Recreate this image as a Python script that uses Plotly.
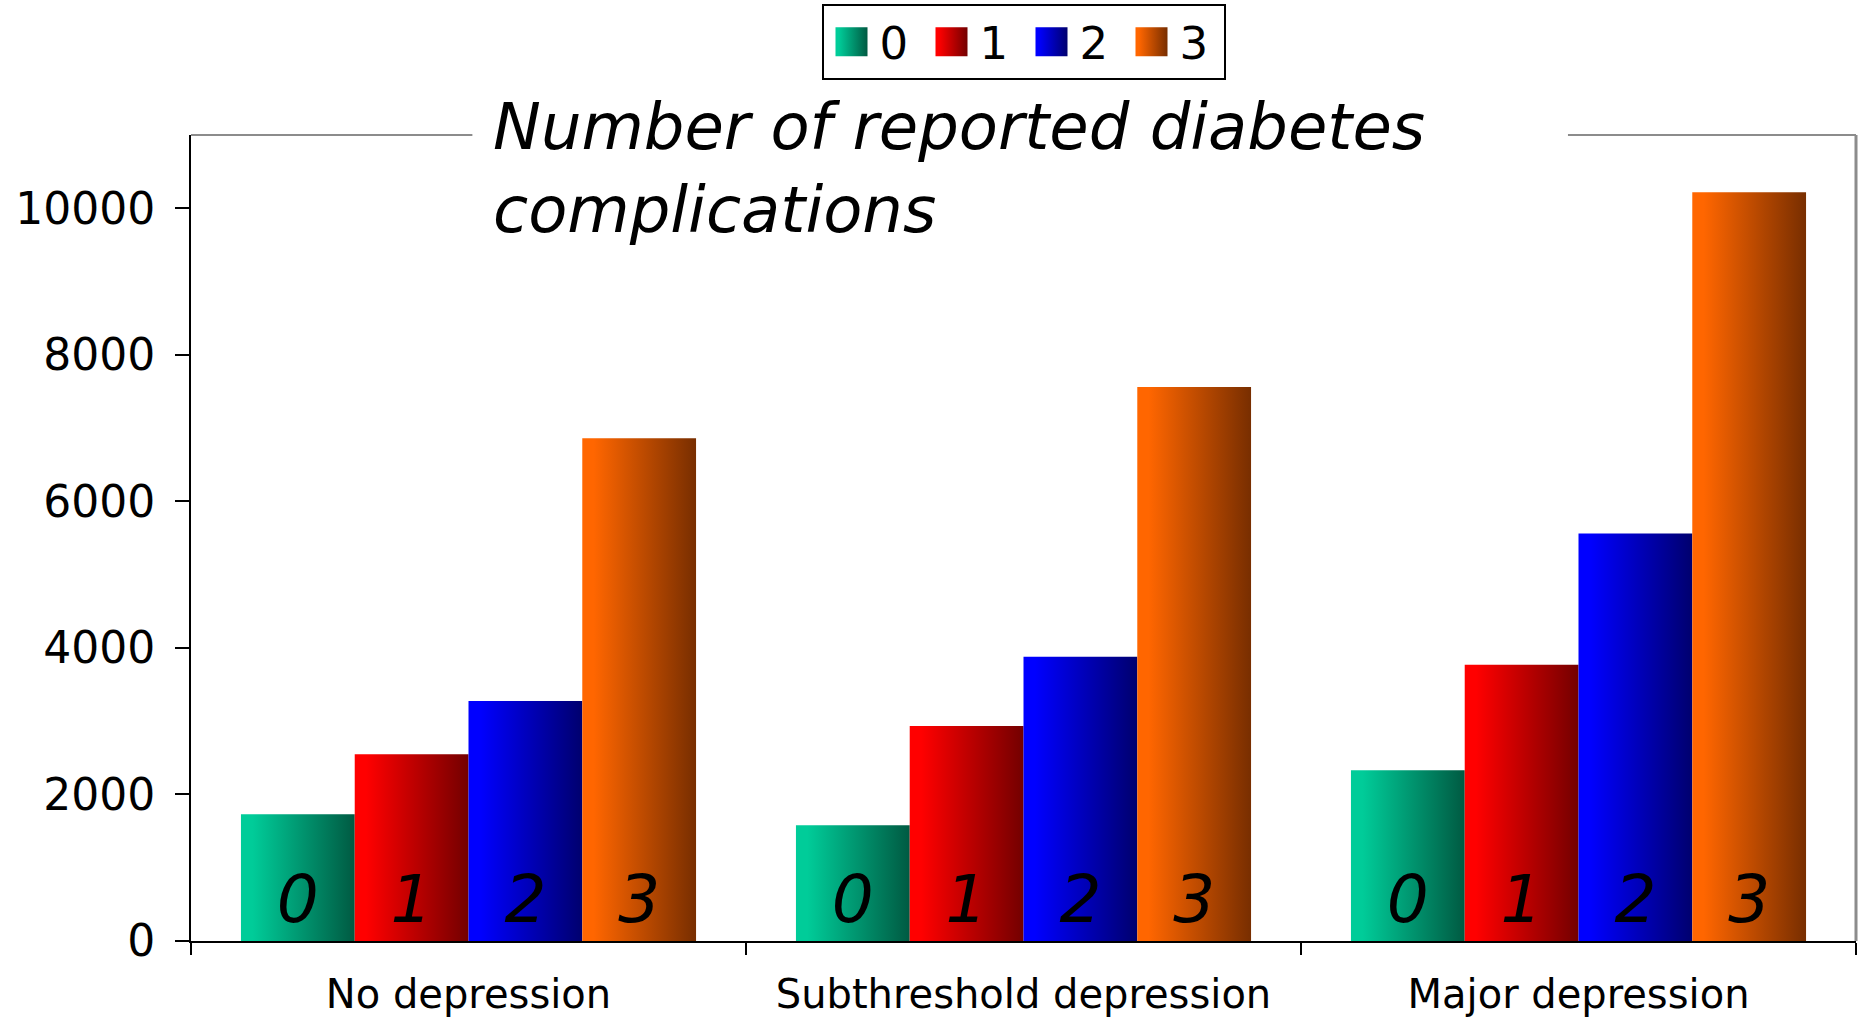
import json
import plotly.graph_objects as go

# Depression status groups on the x axis
categories = ["No depression", "Subthreshold depression", "Major depression"]

# Number of reported diabetes complications (series names)
series_names = ["0", "1", "2", "3"]

# Bar heights per series, one value per depression group
counts_0 = [1730, 1580, 2330]
counts_1 = [2550, 2935, 3770]
counts_2 = [3275, 3880, 5560]
counts_3 = [6860, 7560, 10220]
series_values = [counts_0, counts_1, counts_2, counts_3]

y_tick_values = [0, 2000, 4000, 6000, 8000, 10000]

# Horizontal fade for each series: light edge -> dark edge
light_colors = ["#00CC99", "#FF0000", "#0000FF", "#FF6600"]
dark_colors = ["#005A42", "#730000", "#00006E", "#782E00"]

FONT = "DejaVu Sans"

fig = go.Figure()
for name, vals, col in zip(series_names, series_values, light_colors):
    fig.add_trace(go.Bar(
        x=categories,
        y=vals,
        name=name,
        marker=dict(color=col, line=dict(width=0)),
        text=[name] * len(vals),
        textposition="inside",
        insidetextanchor="start",
        constraintext="none",
        textangle=0,
        textfont=dict(family=FONT, size=66, color="black", style="italic"),
        hoverinfo="skip",
    ))

frame_color = "#8c8c8c"
fig.update_layout(
    width=1865,
    height=1023,
    margin=dict(l=191, r=9, t=135, b=82, autoexpand=False),
    paper_bgcolor="white",
    plot_bgcolor="white",
    barmode="group",
    bargap=0.18,
    bargroupgap=0,
    font=dict(family=FONT, color="black"),
    showlegend=True,
    legend=dict(
        orientation="h",
        xref="paper", x=0.5, xanchor="center",
        yref="container", y=1 - 4 / 1023, yanchor="top",
        bordercolor="black", borderwidth=2,
        bgcolor="white",
        font=dict(family=FONT, size=45, color="black"),
        itemwidth=46,
        entrywidth=39,
        entrywidthmode="pixels",
        valign="middle",
    ),
    xaxis=dict(
        automargin=False,
        showline=True, linecolor="black", linewidth=2,
        ticks="outside", tickson="boundaries", ticklen=12, tickwidth=2, tickcolor="black",
        tickfont=dict(family=FONT, size=40, color="black"),
        ticklabelstandoff=17,
        showgrid=False, zeroline=False,
    ),
    yaxis=dict(
        automargin=False,
        range=[0, 11000],
        tickvals=y_tick_values,
        ticktext=[str(v) for v in y_tick_values],
        showline=True, linecolor="black", linewidth=2,
        ticks="outside", ticklen=14, tickwidth=2, tickcolor="black",
        tickfont=dict(family=FONT, size=44, color="black"),
        ticklabelstandoff=11,
        showgrid=False, zeroline=False,
    ),
    shapes=[
        dict(type="line", xref="paper", yref="paper", x0=0, x1=0.169, y0=1, y1=1,
             line=dict(color=frame_color, width=2)),
        dict(type="line", xref="paper", yref="paper", x0=0.827, x1=1, y0=1, y1=1,
             line=dict(color=frame_color, width=2)),
        dict(type="line", xref="paper", yref="paper", x0=1, x1=1, y0=0, y1=1,
             line=dict(color=frame_color, width=3)),
    ],
    annotations=[
        dict(
            text="Number of reported diabetes<br>complications",
            xref="paper", yref="paper",
            x=0.1800, y=0.959,
            xanchor="left", yanchor="middle",
            align="left",
            showarrow=False,
            font=dict(family=FONT, size=64, color="black", style="italic"),
        )
    ],
)

# Paint each series (bars and legend swatches) with an SVG linear gradient.
fade_js = """
document.body.style.margin = '0';
var gd = document.getElementById('{plot_id}');
var LIGHT = %s;
var DARK = %s;
function paintFades() {
  var svg = gd.querySelector('.main-svg');
  if (!svg) return;
  var defs = svg.querySelector('defs');
  var ns = 'http://www.w3.org/2000/svg';
  for (var i = 0; i < LIGHT.length; i++) {
    var id = 'barfade' + i;
    if (!document.getElementById(id)) {
      var lg = document.createElementNS(ns, 'linearGradient');
      lg.setAttribute('id', id);
      lg.setAttribute('x1', '0'); lg.setAttribute('y1', '0');
      lg.setAttribute('x2', '1'); lg.setAttribute('y2', '0');
      [[0, LIGHT[i]], [0.1, LIGHT[i]], [1, DARK[i]]].forEach(function (s) {
        var st = document.createElementNS(ns, 'stop');
        st.setAttribute('offset', s[0]);
        st.setAttribute('stop-color', s[1]);
        lg.appendChild(st);
      });
      defs.appendChild(lg);
    }
  }
  gd.querySelectorAll('.barlayer .trace').forEach(function (tr, i) {
    tr.querySelectorAll('.point path').forEach(function (p) {
      p.style.fill = 'url(#barfade' + i + ')';
    });
  });
  gd.querySelectorAll('.legend .traces').forEach(function (tr, i) {
    tr.querySelectorAll('.legendpoints path').forEach(function (p) {
      p.setAttribute('d', 'M16,14.5H-16V-14.5H16Z');
      p.style.fill = 'url(#barfade' + i + ')';
      p.style.stroke = 'none';
    });
  });
}
paintFades();
gd.on('plotly_afterplot', paintFades);
""" % (json.dumps(light_colors), json.dumps(dark_colors))

fig.write_html("out.html", post_script=fade_js)
